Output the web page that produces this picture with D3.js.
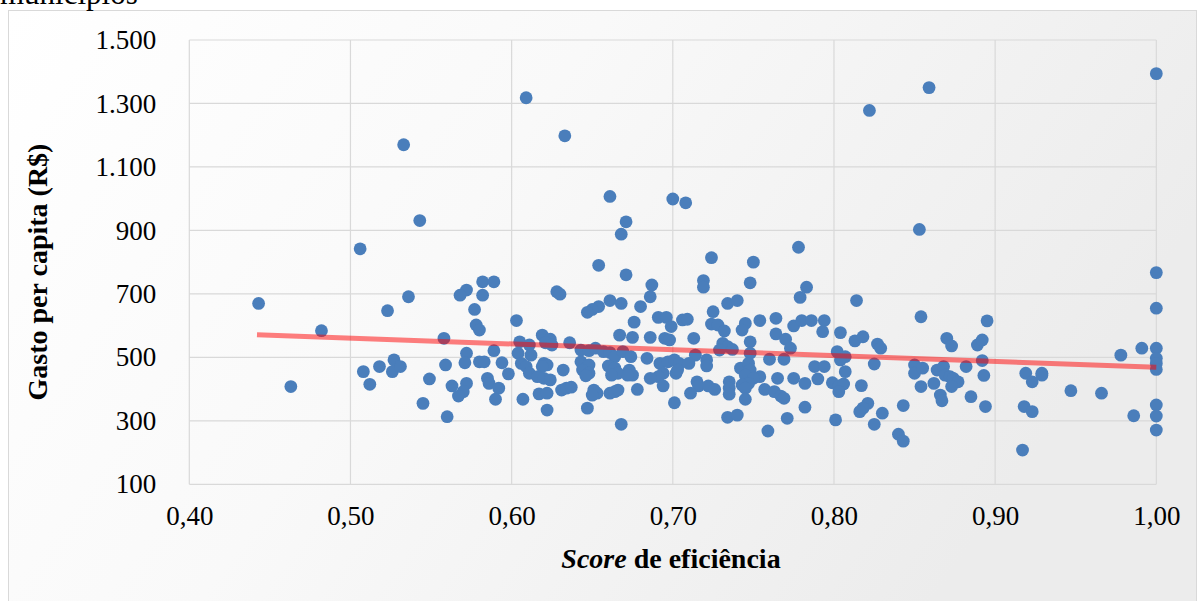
<!DOCTYPE html>
<html><head><meta charset="utf-8">
<script src="https://cdn.jsdelivr.net/npm/d3@7"></script>
<style>html,body{margin:0;padding:0;background:#fff;} svg{display:block;}</style>
</head><body><svg id="c" width="1200" height="601"></svg>
<script>
// Score de eficiência (x) and Gasto per capita em R$ (y), one entry per município
const scores = [0.443,0.463,0.482,0.508,0.518,0.512,0.523,0.536,0.527,0.526,0.531,0.549,0.545,0.533,0.543,0.506,
0.609,0.633,0.661,0.700,0.671,0.668,0.654,0.822,0.859,0.708,0.853,0.724,0.750,0.778,1.000,1.000,
0.671,0.582,0.589,0.572,0.568,0.582,0.687,0.686,0.628,0.630,0.577,0.661,0.668,0.654,0.650,0.647,0.680,0.603,
0.676,0.691,0.696,0.699,0.578,0.580,0.558,0.667,0.675,0.686,0.695,0.698,0.605,0.619,0.624,0.621,0.625,0.636,
0.611,0.643,0.648,0.652,0.657,0.661,0.664,0.669,0.674,0.589,0.572,0.571,0.604,0.612,0.606,0.609,0.594,0.580,
0.583,0.559,0.620,0.622,0.619,0.632,0.643,0.648,0.644,0.648,0.646,0.660,0.664,0.666,0.662,0.673,0.675,0.672,
0.684,0.692,0.697,0.701,0.694,0.691,0.702,0.598,0.611,0.616,0.620,0.624,0.585,0.586,0.572,0.570,0.567,0.563,
0.592,0.631,0.634,0.637,0.651,0.653,0.650,0.661,0.664,0.666,0.678,0.686,0.694,0.617,0.622,0.590,0.607,0.701,
0.622,0.647,0.560,0.668,
0.748,0.719,0.719,0.783,0.779,0.814,0.734,0.740,0.725,0.706,0.709,0.724,0.728,0.745,0.743,0.754,0.764,0.775,
0.780,0.786,0.794,0.793,0.804,0.732,0.713,0.764,0.770,0.773,0.813,0.818,0.827,0.829,0.748,0.731,0.734,0.729,
0.737,0.714,0.748,0.760,0.769,0.802,0.807,0.804,0.704,0.703,0.710,0.721,0.721,0.825,0.788,0.794,0.807,0.742,
0.747,0.748,0.745,0.754,0.750,0.747,0.743,0.745,0.735,0.735,0.765,0.775,0.782,0.790,0.799,0.803,0.806,0.803,
0.817,0.715,0.716,0.722,0.726,0.711,0.735,0.757,0.763,0.767,0.769,0.745,0.782,0.821,0.818,0.816,0.843,0.830,
0.734,0.740,0.771,0.801,0.825,0.759,0.840,0.843,0.854,0.850,0.850,0.854,
1.000,0.895,0.870,0.873,0.889,0.892,0.855,0.892,0.882,0.893,0.864,0.868,0.869,0.872,0.874,0.877,0.862,0.873,
0.866,0.867,0.885,0.894,0.919,0.923,0.929,0.929,0.947,0.966,0.918,0.923,0.917,0.978,0.991,1.000,1.000,1.000,
1.000,1.000,1.000,1.000,0.986];
const gastos = [670,408,584,455,471,415,647,691,492,455,471,432,355,1170,931,842,
1318,1198,1007,999,927,888,790,1278,1350,987,903,814,800,847,1394,767,
760,738,738,712,696,696,728,691,707,699,651,679,670,660,651,642,660,616,
611,626,626,597,602,586,560,570,563,563,560,555,549,570,557,546,539,546,
539,523,521,529,518,515,502,518,502,521,513,483,513,507,481,471,483,486,
486,476,481,476,471,460,486,476,460,450,442,473,466,450,444,460,444,444,
497,481,486,492,450,439,450,448,450,439,434,429,434,418,418,392,378,410,
403,397,403,406,397,387,381,387,392,397,399,434,410,385,387,368,368,357,
334,340,313,289,
735,742,721,721,689,679,670,679,644,618,620,605,602,607,586,616,623,599,
616,616,616,581,578,583,560,574,557,529,552,565,542,529,549,544,534,523,
525,507,513,494,494,518,502,492,481,460,481,492,473,479,471,471,455,466,
481,460,444,439,434,418,413,403,423,403,434,434,418,432,420,410,416,392,
411,423,410,410,399,387,384,399,392,378,371,368,343,355,340,329,348,324,
311,318,308,303,289,268,258,236,628,476,450,408,
655,615,560,536,539,555,466,490,471,443,460,471,444,439,434,423,418,408,
381,363,376,345,450,423,450,444,395,387,345,329,208,507,529,529,497,481,
462,350,315,271,316];
const xTicks = [0.40,0.50,0.60,0.70,0.80,0.90,1.00];
const yTicks = [100,300,500,700,900,1100,1300,1500];
// linear trend line endpoints
const trendX = [0.442,1.000];
const trendY = [571,469];

const loc = d3.formatLocale({decimal:",",thousands:".",grouping:[3],currency:["R$ ",""]});
const fx = loc.format(".2f"), fy = loc.format(",.0f");

const svg = d3.select("#c");
const serif = "'Liberation Serif','Times New Roman',serif";

const defs = svg.append("defs");
const g1 = defs.append("linearGradient").attr("id","bg").attr("x1","0").attr("y1","0").attr("x2","1").attr("y2","0.35");
g1.append("stop").attr("offset","0").attr("stop-color","#ffffff");
g1.append("stop").attr("offset","0.45").attr("stop-color","#f9f9f9");
g1.append("stop").attr("offset","1").attr("stop-color","#ececec");

// frame
svg.append("rect").attr("x",8.5).attr("y",10.5).attr("width",1188).attr("height",600)
  .attr("fill","url(#bg)").attr("stroke","#d9d9d9").attr("stroke-width",1);

// caption tail above the chart
svg.append("text").attr("x",0).attr("y",4).attr("font-family",serif).attr("font-size",31)
  .attr("fill","#000").text("municípios");

const x = d3.scaleLinear().domain([0.4,1.0]).range([189.3,1156.3]);
const y = d3.scaleLinear().domain([100,1500]).range([484.3,40]);

// gridlines
svg.append("g").selectAll("line").data(yTicks).join("line")
  .attr("x1",x(0.4)).attr("x2",x(1.0)).attr("y1",d=>y(d)).attr("y2",d=>y(d))
  .attr("stroke","#d9d9d9").attr("stroke-width",1.2);
svg.append("g").selectAll("line").data(xTicks).join("line")
  .attr("y1",y(100)).attr("y2",y(1500)).attr("x1",d=>x(d)).attr("x2",d=>x(d))
  .attr("stroke","#d9d9d9").attr("stroke-width",1.2);

// axes (labels only)
const ya = svg.append("g").attr("transform",`translate(${x(0.4)},0)`)
  .call(d3.axisLeft(y).tickValues(yTicks).tickFormat(fy).tickSize(0).tickPadding(33));
const xa = svg.append("g").attr("transform",`translate(0,${y(100)})`)
  .call(d3.axisBottom(x).tickValues(xTicks).tickFormat(fx).tickSize(0).tickPadding(22));
[ya,xa].forEach(a=>{a.select(".domain").remove();
  a.selectAll("text").attr("font-family",serif).attr("font-size",27).attr("fill","#000");});

// points
svg.append("g").selectAll("circle").data(scores.map((s,i)=>[s,gastos[i]])).join("circle")
  .attr("cx",d=>x(d[0])).attr("cy",d=>y(d[1])).attr("r",6.4).attr("fill","#4a7ebb");

// trend
svg.append("line").attr("x1",x(trendX[0])).attr("y1",y(trendY[0]))
  .attr("x2",x(trendX[1])).attr("y2",y(trendY[1]))
  .attr("stroke","#ff0000").attr("stroke-opacity",0.5).attr("stroke-width",5);

// titles
svg.append("text").attr("transform","translate(47,272) rotate(-90)").attr("text-anchor","middle")
  .attr("font-family",serif).attr("font-size",28).attr("font-weight","bold").text("Gasto per capita (R$)");
const xt = svg.append("text").attr("x",671).attr("y",568).attr("text-anchor","middle")
  .attr("font-family",serif).attr("font-size",28).attr("font-weight","bold");
xt.append("tspan").attr("font-style","italic").text("Score");
xt.append("tspan").text(" de eficiência");
</script></body></html>
